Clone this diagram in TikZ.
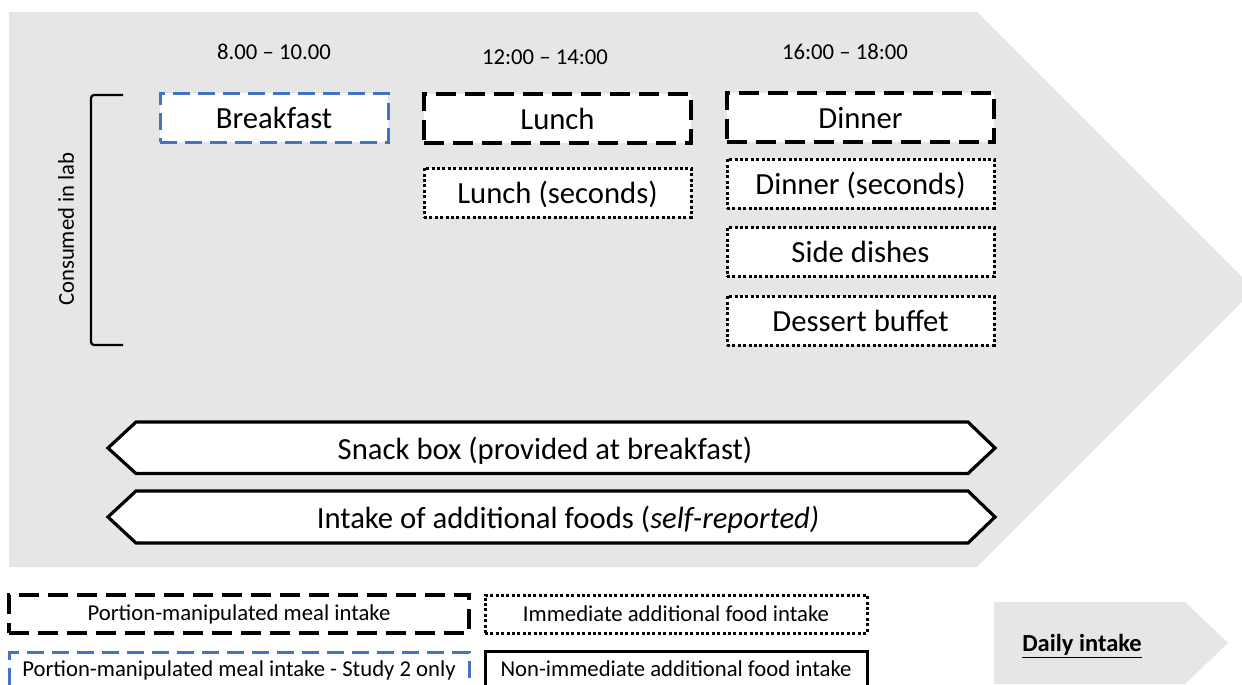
\documentclass[tikz,border=0pt]{standalone}
\usepackage{fontspec}
\setmainfont{Carlito}
\definecolor{bggray}{RGB}{230,230,230}
\definecolor{studyblue}{RGB}{68,114,196}
\begin{document}
\begin{tikzpicture}[x=1pt,y=-1pt,
  bigfont/.style={font=\fontsize{30.7}{36}\selectfont, text height=28pt, text depth=7pt},
  smallfont/.style={font=\fontsize{22.7}{27}\selectfont},
  boxbase/.style={rectangle, inner sep=0pt, fill=white, bigfont},
  mealbox/.style={boxbase, draw=black, line width=3.2pt, dash pattern=on 20pt off 9pt},
  studybox/.style={boxbase, draw=studyblue, line width=3pt, dash pattern=on 17pt off 8pt},
  extrabox/.style={boxbase, draw=black, line width=3pt, dash pattern=on 3pt off 2.4pt},
  hexarrow/.style={draw=black, fill=white, line width=3.2pt, line join=miter},
  timelabel/.style={smallfont, inner sep=0pt},
  legendtext/.style={smallfont, inner sep=0pt},
]
\useasboundingbox (0,0) rectangle (1242,685);
\clip (0,0) rectangle (1242,685);

% big grey chevron
\fill[bggray] (9,12) -- (977,12) -- (1254.5,289.5) -- (977,567) -- (9,567) -- cycle;

% time labels
\node[timelabel] (t1) at (274,52) {8.00 – 10.00};
\node[timelabel] (t2) at (545,57) {12:00 – 14:00};
\node[timelabel] (t3) at (845,52) {16:00 – 18:00};

% bracket
\coordinate (brt) at (123,95);
\coordinate (brb) at (123,345);
\draw[line width=2.2pt, rounded corners=3pt] (brt) -- (91,95) -- (91,345) -- (brb);
\node[smallfont, rotate=90, inner sep=0pt] (lab) at (66,229) {Consumed in lab};

% meal boxes
\node[studybox, minimum width=228pt, minimum height=49pt] (breakfast) at (274,117.5) {Breakfast};
\node[mealbox, minimum width=267pt, minimum height=49pt] (lunch) at (557.5,118.5) {Lunch};
\node[extrabox, minimum width=267pt, minimum height=49pt] (lunchsec) at (557.5,192.5) {Lunch (seconds)};
\node[mealbox, minimum width=267pt, minimum height=49pt] (dinner) at (860.5,117.5) {Dinner};
\node[extrabox, minimum width=267pt, minimum height=49pt] (dinnersec) at (860.5,183.5) {Dinner (seconds)};
\node[extrabox, minimum width=267pt, minimum height=49pt] (side) at (860.5,252) {Side dishes};
\node[extrabox, minimum width=267pt, minimum height=49pt] (dessert) at (860.5,320.5) {Dessert buffet};

% hexagonal double arrows
\draw[hexarrow] (108,448) -- (136,422) -- (968,422) -- (995,448) -- (968,473.5) -- (136,473.5) -- cycle;
\node[bigfont, inner sep=0pt] (snack) at (545,449) {Snack box (provided at breakfast)};
\draw[hexarrow] (108,517) -- (136,491) -- (968,491) -- (995,517) -- (968,543) -- (136,543) -- cycle;
\node[bigfont, inner sep=0pt] (additional) at (568,518) {Intake of additional foods (\textit{self-reported)}};

% legend
\node[mealbox, legendtext, minimum width=460pt, minimum height=38pt] (legmeal) at (239,614) {};
\node[legendtext] (legmealtext) at (239,614) {Portion-manipulated meal intake};
\node[studybox, legendtext, minimum width=460pt, minimum height=40pt, anchor=north] (legstudy) at (239,651) {};
\node[legendtext] (legstudytext) at (239,670) {Portion-manipulated meal intake - Study 2 only};
\node[extrabox, legendtext, minimum width=382pt, minimum height=38pt] (legimm) at (676,614) {};
\node[legendtext] (legimmtext) at (676,614) {Immediate additional food intake};
\node[boxbase, draw=black, line width=3pt, legendtext, minimum width=382pt, minimum height=40pt, anchor=north] (legnon) at (676,650) {};
\node[legendtext] (legnontext) at (676,669) {Non-immediate additional food intake};

% daily intake chevron
\fill[bggray] (994,602) -- (1185,602) -- (1228,643) -- (1185,684) -- (994,684) -- cycle;
\node[inner sep=0pt, font=\fontsize{24.5}{29}\selectfont\bfseries] (daily) at (1082,646) {\underline{Daily intake}};
\end{tikzpicture}
\end{document}
